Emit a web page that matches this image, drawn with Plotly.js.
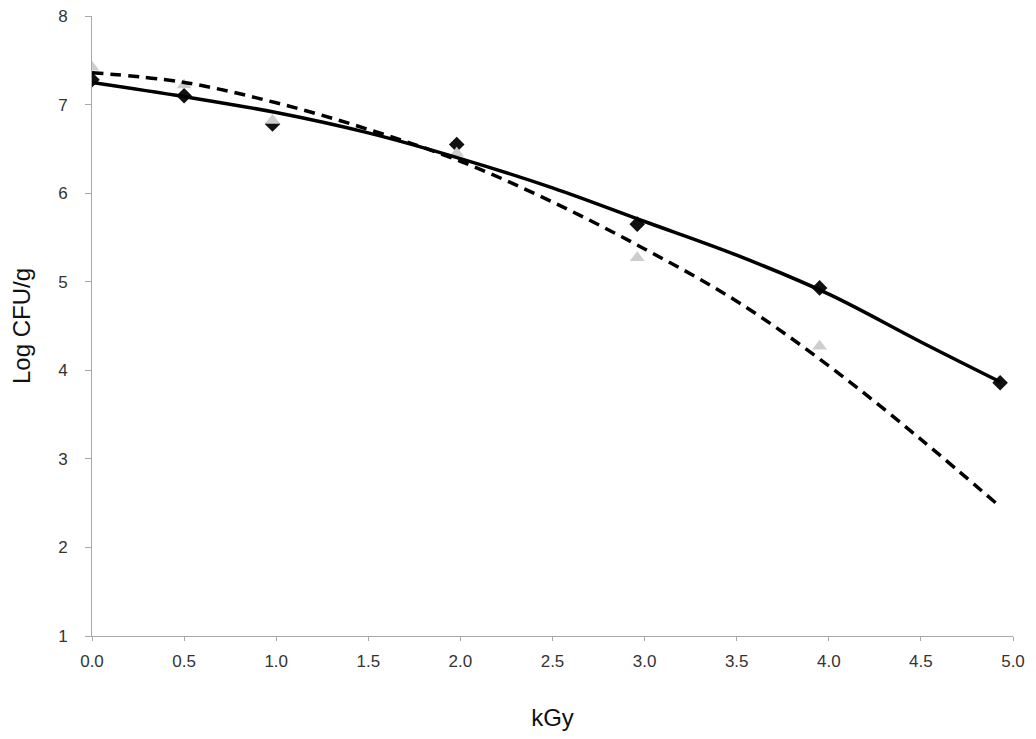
<!DOCTYPE html>
<html>
<head>
<meta charset="utf-8">
<script src="https://cdn.plot.ly/plotly-3.0.1.min.js"></script>
<style>html,body{margin:0;padding:0;background:#fff;}#chart{width:1036px;height:739px;}</style>
</head>
<body>
<div id="chart"></div>
<script>
// Measured points (diamonds, black series)
const doseA = [0, 0.5, 0.98, 1.98, 2.96, 3.95, 4.93];
const logA  = [7.28, 7.10, 6.78, 6.55, 5.65, 4.93, 3.86];
// Measured points (triangles, grey series)
const doseB = [0, 0.5, 0.98, 1.98, 2.96, 3.95];
const logB  = [7.42, 7.22, 6.82, 6.45, 5.27, 4.27];
// Trend lines
const fitX      = [0, 0.5, 1, 1.5, 2, 2.5, 3, 3.5, 4, 4.5, 4.93];
const fitSolid  = [7.25, 7.09, 6.91, 6.68, 6.39, 6.06, 5.68, 5.30, 4.86, 4.32, 3.87];
const fitDashed = [7.36, 7.25, 7.02, 6.72, 6.36, 5.90, 5.37, 4.78, 4.05, 3.22, 2.46];
const xTicks = [0, 0.5, 1, 1.5, 2, 2.5, 3, 3.5, 4, 4.5, 5];
const yTicks = [1, 2, 3, 4, 5, 6, 7, 8];

const traces = [
  {x: doseA, y: logA, mode: 'markers', type: 'scatter',
   marker: {symbol: 'diamond', size: 12, color: '#111'}},
  {x: doseB, y: logB, mode: 'markers', type: 'scatter',
   marker: {symbol: 'triangle-up', size: 13, color: '#cdcdcd'}},
  {x: fitX, y: fitDashed, mode: 'lines', type: 'scatter',
   line: {color: '#000', width: 3.5, dash: '11px,7px', shape: 'spline'}},
  {x: fitX, y: fitSolid, mode: 'lines', type: 'scatter',
   line: {color: '#000', width: 3.5, shape: 'spline'}}
];

const tickFont = {family: 'Liberation Sans, Arial, sans-serif', size: 17, color: '#333'};
const layout = {
  width: 1036, height: 739,
  margin: {l: 92, r: 23, t: 16, b: 103},
  paper_bgcolor: '#fff', plot_bgcolor: '#fff',
  showlegend: false,
  xaxis: {
    range: [0, 5], tickvals: xTicks, ticktext: xTicks.map(v => v.toFixed(1)),
    showgrid: false, zeroline: false, showline: true, linecolor: '#a8a8a8', linewidth: 1,
    ticks: 'outside', ticklen: 4, tickcolor: '#a8a8a8',
    tickfont: tickFont, ticklabelstandoff: 6,
    title: {text: 'kGy', font: {family: 'Liberation Sans, Arial, sans-serif', size: 24, color: '#111'}, standoff: 38}
  },
  yaxis: {
    range: [1, 8], tickvals: yTicks,
    showgrid: false, zeroline: false, showline: true, linecolor: '#a8a8a8', linewidth: 1,
    ticks: 'outside', ticklen: 6, tickcolor: '#a8a8a8',
    tickfont: tickFont, ticklabelstandoff: 14,
    title: {text: 'Log CFU/g', font: {family: 'Liberation Sans, Arial, sans-serif', size: 24, color: '#111'}, standoff: 20}
  }
};
Plotly.newPlot('chart', traces, layout, {displayModeBar: false, staticPlot: true});
</script>
</body>
</html>
